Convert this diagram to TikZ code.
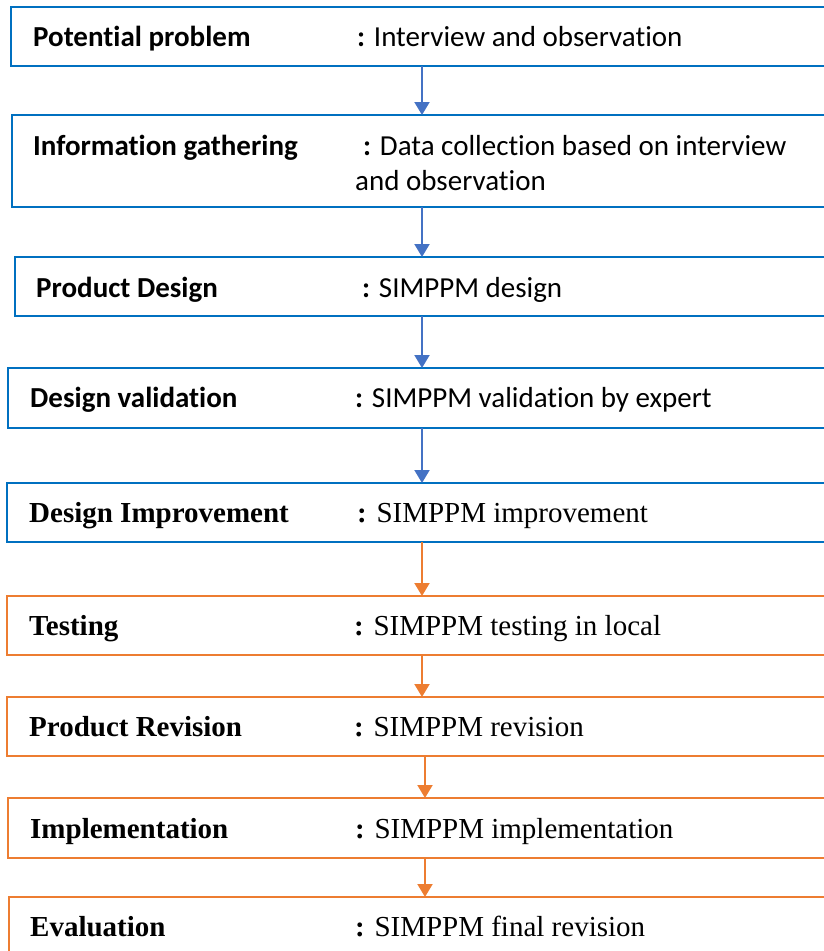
\documentclass[tikz,border=0pt]{standalone}
\usepackage{fontspec}
\setmainfont{Liberation Serif}
\newfontfamily\carlito[Ligatures=NoCommon]{Carlito}
\usetikzlibrary{arrows.meta}
\definecolor{boxblue}{HTML}{0070C0}
\definecolor{arrblue}{HTML}{4472C4}
\definecolor{boxorange}{HTML}{ED7D31}
\begin{document}
\begin{tikzpicture}[x=1pt,y=-1pt,
	stage/.style={draw,line width=2.2pt,minimum width=850pt,inner sep=0pt,outer sep=0pt,anchor=north west},
	bluestage/.style={stage,draw=boxblue},
	orangestage/.style={stage,draw=boxorange},
	ctitle/.style={anchor=base west,inner sep=0pt,font=\fontsize{29}{35}\selectfont\carlito\bfseries},
	ctext/.style={anchor=base west,inner sep=0pt,font=\fontsize{29}{35}\selectfont\carlito},
	stitle/.style={anchor=base west,inner sep=0pt,font=\fontsize{29}{35}\selectfont\bfseries},
	stext/.style={anchor=base west,inner sep=0pt,font=\fontsize{29}{35}\selectfont},
	flow/.style={-{Triangle[width=15pt,length=13pt]},line width=2pt}]
				\useasboundingbox (0,0) rectangle (824,951);
				\clip (0,0) rectangle (824,951);
				\node[bluestage,minimum height=59pt] (s1) at (11,7) {};
				\node[bluestage,minimum height=92pt] (s2) at (12,115) {};
				\node[bluestage,minimum height=59pt] (s3) at (15,257) {};
				\node[bluestage,minimum height=60pt] (s4) at (8,368) {};
				\node[bluestage,minimum height=59pt] (s5) at (7,483) {};
				\node[orangestage,minimum height=59pt] (s6) at (7,596) {};
				\node[orangestage,minimum height=59pt] (s7) at (7,697) {};
				\node[orangestage,minimum height=60pt] (s8) at (8,798) {};
				\node[orangestage,minimum height=60pt] (s9) at (9,897) {};
				\node[ctitle] (t1) at (33,46) {Potential problem};
				\node[ctext] (d1) at (357,46) {\textbf{:} Interview and observation};
				\node[ctitle] (t2) at (33,155) {Information gathering};
				\node[ctext] (d2) at (363,155) {\textbf{:} Data collection based on interview};
				\node[ctext] (d2b) at (355,190) {and observation};
				\node[ctitle] (t3) at (36,297) {Product Design};
				\node[ctext] (d3) at (362,297) {\textbf{:} SIMPPM design};
				\node[ctitle] (t4) at (30,407) {Design validation};
				\node[ctext] (d4) at (355,407) {\textbf{:} SIMPPM validation by expert};
				\node[stitle] (t5) at (29,522) {Design Improvement};
				\node[stext] (d5) at (357,522) {\textbf{:} SIMPPM improvement};
				\node[stitle] (t6) at (29,635) {Testing};
				\node[stext] (d6) at (354,635) {\textbf{:} SIMPPM testing in local};
				\node[stitle] (t7) at (29,736) {Product Revision};
				\node[stext] (d7) at (354,736) {\textbf{:} SIMPPM revision};
				\node[stitle] (t8) at (30,838) {Implementation};
				\node[stext] (d8) at (355,838) {\textbf{:} SIMPPM implementation};
				\node[stitle] (t9) at (30,936) {Evaluation};
				\node[stext] (d9) at (355,936) {\textbf{:} SIMPPM final revision};
				\coordinate (ax) at (422,0);
				\coordinate (bx) at (425,0);
				\draw[flow,arrblue] (s1.south -| ax) -- (s2.north -| ax);
				\draw[flow,arrblue] (s2.south -| ax) -- (s3.north -| ax);
				\draw[flow,arrblue] (s3.south -| ax) -- (s4.north -| ax);
				\draw[flow,arrblue] (s4.south -| ax) -- (s5.north -| ax);
				\draw[flow,boxorange] (s5.south -| ax) -- (s6.north -| ax);
				\draw[flow,boxorange] (s6.south -| ax) -- (s7.north -| ax);
				\draw[flow,boxorange] (s7.south -| bx) -- (s8.north -| bx);
				\draw[flow,boxorange] (s8.south -| bx) -- (s9.north -| bx);
\end{tikzpicture}
\end{document}
